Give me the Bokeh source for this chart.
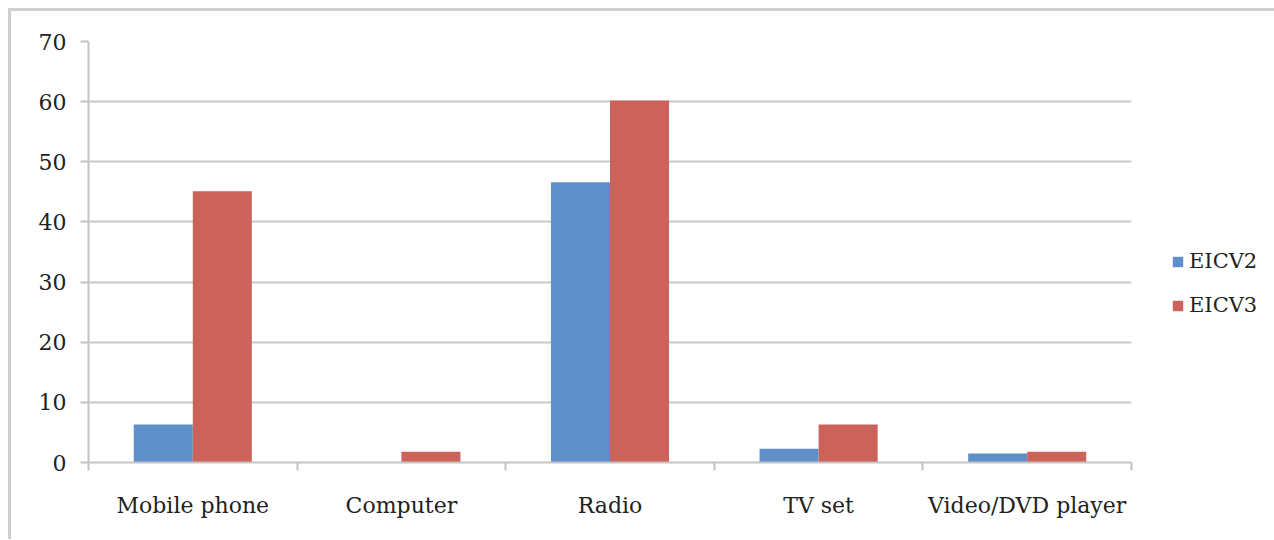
from bokeh.plotting import figure
from bokeh.models import ColumnDataSource, FixedTicker, Legend, LegendItem, Range1d
from bokeh.embed import file_html
from bokeh.resources import INLINE

categories = ["Mobile phone", "Computer", "Radio", "TV set", "Video/DVD player"]
series_names = ["EICV2", "EICV3"]
eicv2 = [6.3, 0.0, 46.6, 2.3, 1.5]
eicv3 = [45.1, 1.8, 60.2, 6.3, 1.8]
y_ticks = [0, 10, 20, 30, 40, 50, 60, 70]

colors = ["#5F8FC8", "#CD625A"]
FONT = "DejaVu Serif"
bar_w = 0.283

p = figure(width=1255, height=528, output_backend="svg", toolbar_location=None,
           x_range=Range1d(0, len(categories)), y_range=Range1d(0, 70),
           frame_width=1043, frame_height=421,
           min_border_left=77, min_border_top=30, min_border_right=135, min_border_bottom=77)
p.styles = {"border-left": "3px solid #cfcfcf", "border-top": "3px solid #cfcfcf",
            "margin-top": "8px", "margin-left": "8px"}
p.outline_line_color = None
p.background_fill_color = "white"
p.border_fill_color = "white"

centers = [i + 0.5 for i in range(len(categories))]
src = ColumnDataSource(dict(
    x2=[c - bar_w / 2 for c in centers],
    x3=[c + bar_w / 2 for c in centers],
    v2=eicv2, v3=eicv3))
r2 = p.vbar(x="x2", top="v2", bottom=0, width=bar_w, source=src, fill_color=colors[0], line_color=None)
r3 = p.vbar(x="x3", top="v3", bottom=0, width=bar_w, source=src, fill_color=colors[1], line_color=None)

# y axis
ya = p.yaxis[0]
ya.ticker = FixedTicker(ticks=y_ticks)
ya.axis_line_color = "#c4c4c4"
ya.axis_line_width = 2
ya.major_tick_line_color = "#c4c4c4"
ya.major_tick_line_width = 2
ya.major_tick_out = 8
ya.major_tick_in = 0
ya.minor_tick_line_color = None
ya.major_label_text_font = FONT
ya.major_label_text_font_size = "22px"
ya.major_label_text_color = "#222222"
ya.major_label_standoff = 14

# x axis
xa = p.xaxis[0]
xa.ticker = FixedTicker(ticks=centers, minor_ticks=list(range(len(categories) + 1)))
xa.major_label_overrides = {c: name for c, name in zip(centers, categories)}
xa.axis_line_color = "#c4c4c4"
xa.axis_line_width = 2
xa.major_tick_line_color = None
xa.major_tick_out = 0
xa.major_tick_in = 0
xa.minor_tick_line_color = "#c4c4c4"
xa.minor_tick_line_width = 2
xa.minor_tick_out = 8
xa.minor_tick_in = 0
xa.major_label_text_font = FONT
xa.major_label_text_font_size = "22px"
xa.major_label_text_color = "#222222"
xa.major_label_standoff = 22

p.xgrid.grid_line_color = None
p.ygrid.ticker = FixedTicker(ticks=y_ticks)
p.ygrid.grid_line_color = "#c8c8c8"
p.ygrid.grid_line_width = 2

legend = Legend(items=[LegendItem(label=series_names[0], renderers=[r2]),
                       LegendItem(label=series_names[1], renderers=[r3])],
                location=(40, 145))
legend.label_text_font = FONT
legend.label_text_font_size = "21px"
legend.label_text_color = "#222222"
legend.glyph_width = 13
legend.glyph_height = 13
legend.label_standoff = 5
legend.spacing = 20
legend.padding = 0
legend.margin = 0
legend.border_line_color = None
legend.background_fill_alpha = 0
p.add_layout(legend, "right")

open("out.html", "w").write(file_html(p, INLINE))
